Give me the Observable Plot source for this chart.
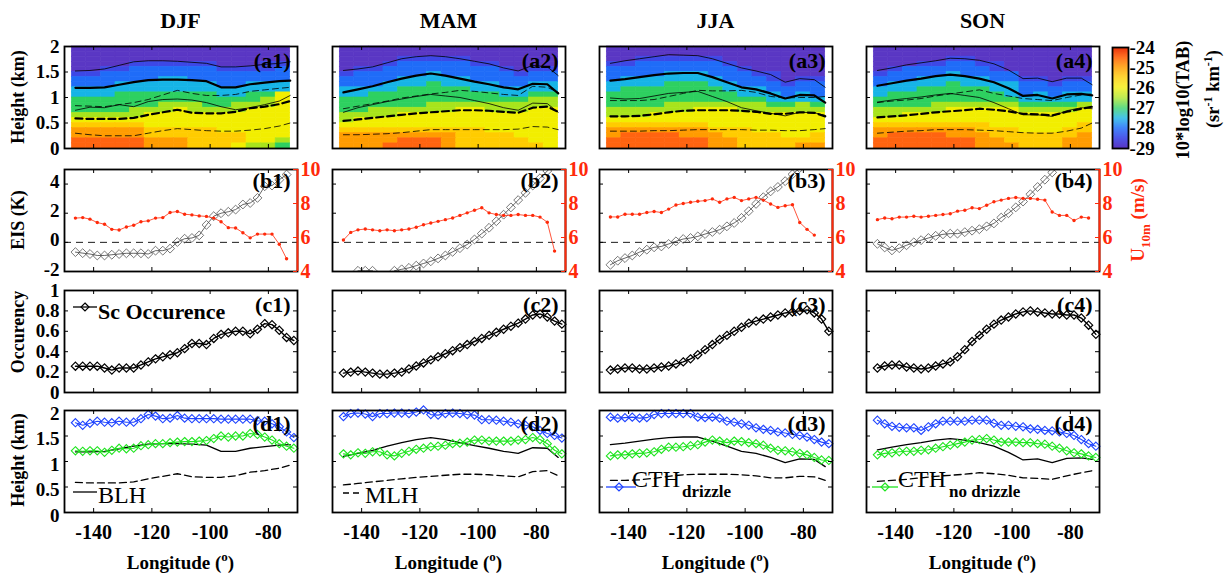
<!DOCTYPE html>
<html><head><meta charset="utf-8">
<script src="https://cdn.jsdelivr.net/npm/d3@7"></script>
<script src="https://cdn.jsdelivr.net/npm/@observablehq/plot@0.6"></script>
<style>
body{margin:0;background:#fff;}
#root{position:relative;width:1232px;height:577px;overflow:hidden;background:#fff;}
</style></head><body><div id="root"></div>
<script>
// ---------------- DATA ----------------
const seasons = ["DJF","MAM","JJA","SON"];
const xTicks = [-140,-120,-100,-80];
const hTicks = [0,0.5,1,1.5,2];
const eisTicks = [-2,0,2,4];
const eisRef = [0];
const uTicks = [4,6,8,10];
const occTicks = [0,0.2,0.4,0.6,0.8,1];
const tabTicks = [-29,-28,-27,-26,-25,-24];
const lonPts = [-146.25,-143.75,-141.25,-138.75,-136.25,-133.75,-131.25,-128.75,-126.25,-123.75,-121.25,-118.75,-116.25,-113.75,-111.25,-108.75,-106.25,-103.75,-101.25,-98.75,-96.25,-93.75,-91.25,-88.75,-86.25,-83.75,-81.25,-78.75,-76.25,-73.75,-71.25];
const lonLine = [-146.25,-141.25,-136.25,-131.25,-126.25,-121.25,-116.25,-111.25,-106.25,-101.25,-96.25,-91.25,-86.25,-81.25,-76.25,-72.5];
const heatLon = [-145,-140,-135,-130,-125,-120,-115,-110,-105,-100,-95,-90,-85,-80,-75];
const heatH = [1.95,1.85,1.75,1.65,1.55,1.45,1.35,1.25,1.15,1.05,0.95,0.85,0.75,0.65,0.55,0.45,0.35,0.25,0.15,0.05];

// TAB field, digit d -> 10*log10(TAB) = -29 + 0.5*d ; rows top (2 km) to bottom (0 km)
const tabDJF = ["000000000000000","000000000000000","000000000000000","000011111100011","001122222211112","112222222222222","222222332222222","222333333322333","333333333333333","333444444433446","444444444444456","444444555445556","444455565555666","555556666666666","666666666666666","777776666666666","888887777766666","888887777777666","999998887777665","999998887776554"];
const tabMAM = ["000000000000000","000000000000000","000011111000000","000122222110000","011222222221011","122222322222122","222233333222222","222333433332233","333344444333333","334444444443344","444444444444455","444444555555555","445555556655566","555566666666666","566666666666666","666666666666666","777777777766666","888888887777666","888899987777766","888999987777776"];
const tabJJA = ["000000000000000","000000000000000","001111110000000","112222221000000","222222222100000","222233322211000","233333332221011","333344433222122","344444443332222","444444444333232","444444444443333","444455555554454","555555666555555","555666666666666","666666666666666","777777766666666","888888877766666","899998887777667","999999988777777","999999988777788"];
const tabSON = ["000000000000000","000000000000000","000001100000000","000112211000000","012222221000000","122223222200000","222333332211011","233334333322122","333444443322222","344444444323233","444444444433333","444455555544445","555556666655556","556666666666666","666666666666666","777777776666667","888888877766677","899998887777778","999999988777788","999999988877788"];

// height lines (km) on lonLine
const blhDJF = [1.19,1.19,1.2,1.25,1.3,1.34,1.35,1.35,1.34,1.32,1.2,1.2,1.26,1.29,1.32,1.33];
const blhMAM = [1.1,1.16,1.22,1.3,1.37,1.43,1.47,1.43,1.37,1.31,1.26,1.2,1.16,1.27,1.26,1.08];
const blhJJA = [1.33,1.36,1.4,1.44,1.47,1.48,1.48,1.4,1.3,1.2,1.16,1.08,0.98,1.05,1.04,0.9];
const blhSON = [1.23,1.28,1.33,1.37,1.42,1.45,1.42,1.37,1.3,1.18,1.03,1.05,0.98,1.06,1.07,1.04];
const mlhDJF = [0.59,0.58,0.58,0.58,0.6,0.66,0.71,0.76,0.7,0.69,0.69,0.72,0.79,0.82,0.87,0.93];
const mlhMAM = [0.54,0.57,0.6,0.63,0.66,0.69,0.71,0.73,0.75,0.75,0.74,0.72,0.7,0.8,0.82,0.72];
const mlhJJA = [0.63,0.63,0.64,0.67,0.71,0.74,0.75,0.75,0.75,0.74,0.72,0.68,0.68,0.71,0.7,0.63];
const mlhSON = [0.61,0.63,0.65,0.68,0.71,0.73,0.75,0.78,0.76,0.73,0.68,0.67,0.65,0.72,0.78,0.82];
const blhHiDJF = [1.52,1.53,1.56,1.63,1.7,1.72,1.72,1.71,1.69,1.67,1.6,1.6,1.62,1.65,1.67,1.7];
const blhHiMAM = [1.53,1.56,1.6,1.68,1.76,1.8,1.82,1.8,1.76,1.71,1.66,1.58,1.52,1.63,1.6,1.43];
const blhHiJJA = [1.67,1.72,1.76,1.8,1.84,1.83,1.82,1.76,1.67,1.58,1.52,1.45,1.3,1.37,1.35,1.2];
const blhHiSON = [1.53,1.58,1.64,1.68,1.72,1.77,1.76,1.73,1.66,1.54,1.37,1.38,1.31,1.38,1.38,1.25];
const blhLoDJF = [0.75,0.81,0.8,0.86,0.82,0.92,0.96,0.97,0.95,0.9,0.82,0.76,0.8,0.86,0.93,1.04];
const blhLoMAM = [0.71,0.8,0.86,0.92,0.97,1.02,1.06,1.03,1.0,0.94,0.88,0.8,0.75,0.89,0.88,0.71];
const blhLoJJA = [0.99,0.97,0.98,1.03,1.08,1.1,1.12,1.02,0.92,0.8,0.74,0.69,0.64,0.71,0.7,0.65];
const blhLoSON = [0.91,0.95,0.98,1.01,1.05,1.08,1.04,1.0,0.9,0.78,0.66,0.66,0.63,0.74,0.8,0.78];
const mlhHiDJF = [0.84,0.83,0.82,0.86,0.9,0.96,1.05,1.14,1.08,1.04,1.04,1.06,1.12,1.15,1.18,1.2];
const mlhHiMAM = [0.78,0.83,0.88,0.93,0.99,1.03,1.07,1.1,1.14,1.12,1.09,1.06,1.04,1.22,1.2,1.1];
const mlhHiJJA = [0.94,0.94,0.94,0.96,1.02,1.08,1.14,1.13,1.13,1.14,1.1,1.02,0.99,1.0,1.0,1.02];
const mlhHiSON = [0.9,0.93,0.95,0.98,1.03,1.07,1.11,1.15,1.08,1.03,0.98,0.96,0.94,1.0,1.05,1.07];
const mlhLoDJF = [0.3,0.27,0.25,0.25,0.25,0.3,0.35,0.39,0.37,0.35,0.34,0.34,0.36,0.39,0.44,0.5];
const mlhLoMAM = [0.27,0.27,0.28,0.29,0.31,0.34,0.37,0.37,0.37,0.37,0.37,0.37,0.38,0.43,0.42,0.37];
const mlhLoJJA = [0.34,0.34,0.34,0.35,0.35,0.36,0.37,0.37,0.37,0.37,0.36,0.36,0.35,0.35,0.37,0.39];
const mlhLoSON = [0.3,0.32,0.34,0.35,0.37,0.37,0.37,0.36,0.35,0.33,0.31,0.3,0.3,0.34,0.4,0.5];

// EIS (K) and U10m (m/s) on lonPts
const eisDJF = [-0.67,-0.74,-0.8,-0.9,-0.9,-0.85,-0.8,-0.75,-0.75,-0.75,-0.8,-0.57,-0.57,-0.43,0.02,0.25,0.3,0.48,1.2,1.8,2.0,2.1,2.25,2.6,2.7,3.05,3.85,3.9,4.3,4.65];
const eisMAM = [null,null,-1.95,-1.95,-1.95,null,null,-1.95,-1.85,-1.75,-1.6,-1.45,-1.3,-1.1,-0.9,-0.65,-0.4,-0.15,0.2,0.6,1.0,1.45,1.9,2.4,2.9,3.4,3.9,4.4,4.9,5.4];
const eisJJA = [-1.54,-1.26,-1.08,-0.9,-0.67,-0.5,-0.34,-0.28,-0.11,0.07,0.23,0.3,0.41,0.57,0.71,0.87,1.1,1.33,1.68,2.14,2.64,3.1,3.5,3.8,4.2,4.67,5.1];
const eisSON = [-0.1,-0.35,-0.55,-0.4,-0.2,0.0,0.15,0.3,0.45,0.55,0.6,0.6,0.7,0.8,0.9,1.1,1.3,1.7,2.0,2.4,2.8,3.3,3.8,4.3,4.8,5.3];
const uDJF = [7.14,7.17,7.08,6.88,6.78,6.48,6.44,6.62,6.72,6.93,6.98,7.14,7.17,7.47,7.53,7.37,7.33,7.27,7.24,7.14,6.93,6.58,6.56,6.28,5.98,6.2,6.2,6.2,5.6,4.75];
const uMAM = [5.85,6.3,6.45,6.5,6.45,6.4,6.45,6.4,6.45,6.5,6.6,6.75,6.85,6.95,7.05,7.15,7.3,7.45,7.6,7.75,7.45,7.35,7.3,7.3,7.35,7.3,7.3,7.2,6.9,5.2];
const uJJA = [7.21,7.21,7.37,7.37,7.37,7.47,7.53,7.47,7.67,7.91,8.0,8.07,8.13,8.17,8.27,8.07,8.27,8.36,8.17,8.27,8.36,8.2,7.97,7.77,7.87,7.93,6.88,6.48,6.14];
const uSON = [7.05,7.15,7.1,7.2,7.2,7.25,7.2,7.25,7.3,7.35,7.4,7.55,7.6,7.75,7.7,7.9,8.1,8.2,8.3,8.35,8.3,8.3,8.25,8.2,7.5,7.3,7.3,7.0,7.2,7.15];

// Sc occurrence
const occDJF = [0.258,0.258,0.258,0.258,0.24,0.22,0.24,0.24,0.24,0.27,0.30,0.33,0.35,0.37,0.39,0.43,0.48,0.48,0.47,0.53,0.57,0.585,0.60,0.60,0.575,0.62,0.675,0.665,0.61,0.54,0.51];
const occMAM = [0.19,0.2,0.21,0.2,0.19,0.18,0.18,0.19,0.2,0.23,0.26,0.29,0.32,0.35,0.38,0.41,0.44,0.47,0.5,0.53,0.56,0.59,0.62,0.65,0.68,0.72,0.76,0.77,0.74,0.70,0.67];
const occJJA = [0.22,0.23,0.24,0.24,0.23,0.23,0.24,0.25,0.26,0.28,0.30,0.33,0.37,0.42,0.47,0.52,0.56,0.6,0.64,0.68,0.7,0.72,0.74,0.76,0.78,0.79,0.8,0.81,0.78,0.72,0.6];
const occSON = [0.24,0.26,0.27,0.27,0.25,0.24,0.23,0.24,0.26,0.28,0.3,0.35,0.42,0.5,0.56,0.62,0.67,0.71,0.74,0.77,0.79,0.8,0.79,0.78,0.77,0.77,0.76,0.76,0.73,0.66,0.57];

// CTH drizzle / no drizzle (km)
const drzDJF = [1.76,1.71,1.75,1.79,1.77,1.76,1.79,1.77,1.77,1.84,1.92,1.89,1.84,1.85,1.90,1.85,1.84,1.84,1.84,1.84,1.83,1.83,1.83,1.83,1.83,1.80,1.79,1.74,1.68,1.58,1.47];
const drzMAM = [1.88,1.94,1.95,1.93,1.88,1.94,1.94,1.95,1.95,1.94,1.97,2.01,1.92,1.91,1.94,1.95,1.94,1.92,1.91,1.82,1.82,1.81,1.79,1.77,1.74,1.71,1.68,1.61,1.55,1.51,1.46];
const drzJJA = [1.87,1.85,1.86,1.87,1.85,1.86,1.92,1.94,1.94,1.94,1.94,1.94,1.87,1.86,1.87,1.85,1.79,1.77,1.74,1.71,1.66,1.63,1.61,1.58,1.56,1.53,1.51,1.48,1.43,1.38,1.35];
const drzSON = [1.81,1.74,1.69,1.67,1.66,1.66,1.61,1.68,1.74,1.79,1.79,1.79,1.79,1.81,1.81,1.81,1.75,1.71,1.71,1.69,1.68,1.64,1.63,1.61,1.6,1.58,1.55,1.51,1.43,1.35,1.3];
const ndzDJF = [1.21,1.2,1.21,1.21,1.18,1.22,1.26,1.25,1.26,1.31,1.33,1.35,1.35,1.37,1.38,1.39,1.39,1.4,1.41,1.45,1.5,1.48,1.5,1.5,1.55,1.53,1.48,1.42,1.35,1.3,1.26];
const ndzMAM = [1.15,1.13,1.17,1.16,1.19,1.19,1.13,1.11,1.16,1.2,1.24,1.26,1.29,1.3,1.32,1.35,1.36,1.38,1.42,1.42,1.4,1.4,1.4,1.4,1.42,1.43,1.47,1.43,1.35,1.22,1.15];
const ndzJJA = [1.11,1.13,1.13,1.15,1.16,1.17,1.19,1.24,1.28,1.28,1.29,1.31,1.33,1.38,1.42,1.4,1.37,1.4,1.39,1.37,1.35,1.32,1.26,1.22,1.21,1.19,1.16,1.13,1.08,1.03,1.02];
const ndzSON = [1.13,1.16,1.17,1.19,1.2,1.2,1.22,1.23,1.26,1.29,1.32,1.35,1.38,1.42,1.43,1.45,1.42,1.38,1.38,1.38,1.37,1.37,1.35,1.34,1.3,1.26,1.21,1.17,1.15,1.11,1.08];

// ---------------- LAYOUT / STYLE ----------------
const FONT = '"Liberation Serif","Times New Roman",Times,serif';
const RED = "#ff2a0a", BLUE = "#1f44ff", GREEN = "#1fe41f";
const colLeft = [64, 332, 599, 866];
const rowTop = [46, 169, 290, 410];
const PW = 233, PH = 102, TL = 4;
const ML = 70, MR = 50, MT = 14, MB = 50;
const xDomain = [-150, -70];
const colorOpts = {type: "linear", interpolate: "rgb",
  domain: [-29,-28.5,-28,-27.5,-27,-26.5,-26,-25.5,-25,-24.5,-24],
  range: ["#5a37c4","#3d48e6","#1f6cf8","#16b4e6","#2ed060","#a8e41c","#f2ee00","#ffcc00","#ff9c00","#ff6410","#e8300c"]};

const D = {
  DJF:{tab:tabDJF,blh:blhDJF,mlh:mlhDJF,bHi:blhHiDJF,bLo:blhLoDJF,mHi:mlhHiDJF,mLo:mlhLoDJF,eis:eisDJF,u:uDJF,occ:occDJF,drz:drzDJF,ndz:ndzDJF},
  MAM:{tab:tabMAM,blh:blhMAM,mlh:mlhMAM,bHi:blhHiMAM,bLo:blhLoMAM,mHi:mlhHiMAM,mLo:mlhLoMAM,eis:eisMAM,u:uMAM,occ:occMAM,drz:drzMAM,ndz:ndzMAM},
  JJA:{tab:tabJJA,blh:blhJJA,mlh:mlhJJA,bHi:blhHiJJA,bLo:blhLoJJA,mHi:mlhHiJJA,mLo:mlhLoJJA,eis:eisJJA,u:uJJA,occ:occJJA,drz:drzJJA,ndz:ndzJJA},
  SON:{tab:tabSON,blh:blhSON,mlh:mlhSON,bHi:blhHiSON,bLo:blhLoSON,mHi:mlhHiSON,mLo:mlhLoSON,eis:eisSON,u:uSON,occ:occSON,drz:drzSON,ndz:ndzSON}
};

const root = document.getElementById("root");
function mount(node, left, top) {
  node.style.position = "absolute";
  node.style.left = left + "px";
  node.style.top = top + "px";
  node.style.overflow = "visible";
  root.appendChild(node);
}
function panelPlot(yDomain, marks) {
  return Plot.plot({
    width: PW + ML + MR, height: PH + MT + MB,
    marginLeft: ML, marginRight: MR, marginTop: MT, marginBottom: MB,
    x: {domain: xDomain, axis: null},
    y: {domain: yDomain, axis: null},
    color: colorOpts,
    style: {background: "transparent", fontFamily: FONT, fontSize: "19px", fontWeight: "bold", overflow: "visible", color: "black"},
    marks: marks.flat().filter(Boolean)
  });
}
const fmt = d => String(d);
const pts = (arr, lons) => arr.map((v, i) => ({lon: lons[i], v}));
function cells(rows) {
  const out = [];
  rows.forEach((s, r) => [...s].forEach((ch, c) => out.push({
    x1: heatLon[c] - 2.5, x2: heatLon[c] + 2.5, y1: heatH[r] - 0.05, y2: heatH[r] + 0.05, v: -29 + 0.5 * (+ch)})));
  return out;
}
function xTickMarks() {
  return [Plot.tickX(xTicks, {x: d => d, insetTop: PH - TL, stroke: "black"}),
          Plot.tickX(xTicks, {x: d => d, insetBottom: PH - TL, stroke: "black"})];
}
function yTickMarks(t, left = true, right = true, color = "black") {
  const m = [];
  if (left) m.push(Plot.tickY(t, {y: d => d, insetRight: PW - TL, stroke: color}));
  if (right) m.push(Plot.tickY(t, {y: d => d, insetLeft: PW - TL, stroke: color}));
  return m;
}
function panelLabel(s, dy) {
  return Plot.text([s], {text: d => d, frameAnchor: "top-right", textAnchor: "end", lineAnchor: "top", dx: -7, dy, fontSize: 22, fontWeight: "bold"});
}
function leftAxis(c, t, dy = 0) {
  return c === 0 ? Plot.axisY({ticks: t, tickSize: 0, tickPadding: 5, tickFormat: fmt, label: null, dy}) : null;
}
const frame = () => Plot.frame({stroke: "black", strokeWidth: 1.8});

seasons.forEach((s, c) => {
  const d = D[s];
  // Row a : TAB field with BLH / MLH lines
  const a = panelPlot([0, 2], [
    Plot.rect(cells(d.tab), {x1: "x1", x2: "x2", y1: "y1", y2: "y2", fill: "v", stroke: "v", strokeWidth: 0.6}),
    Plot.line(pts(d.bHi, lonLine), {x: "lon", y: "v", stroke: "black", strokeWidth: 0.8}),
    Plot.line(pts(d.bLo, lonLine), {x: "lon", y: "v", stroke: "black", strokeWidth: 0.8}),
    Plot.line(pts(d.mHi, lonLine), {x: "lon", y: "v", stroke: "black", strokeWidth: 0.8, strokeDasharray: "6,4"}),
    Plot.line(pts(d.mLo, lonLine), {x: "lon", y: "v", stroke: "black", strokeWidth: 0.8, strokeDasharray: "6,4"}),
    Plot.line(pts(d.blh, lonLine), {x: "lon", y: "v", stroke: "black", strokeWidth: 2.2}),
    Plot.line(pts(d.mlh, lonLine), {x: "lon", y: "v", stroke: "black", strokeWidth: 2.2, strokeDasharray: "7,4"}),
    xTickMarks(), yTickMarks(hTicks), frame(),
    panelLabel(`(a${c+1})`, 6), leftAxis(c, hTicks)
  ]);
  mount(a, colLeft[c] - ML, rowTop[0] - MT);

  // Row b : EIS (left) + U10m (right)
  const b = panelPlot([-2, 5], [
    Plot.ruleY(eisRef, {stroke: "black", strokeWidth: 0.9, strokeDasharray: "7,5"}),
    Plot.line(pts(d.eis, lonPts), {x: "lon", y: "v", stroke: "#222", strokeWidth: 0.7, clip: true}),
    Plot.dot(pts(d.eis, lonPts), {x: "lon", y: "v", symbol: "diamond2", r: 4, stroke: "#555", strokeWidth: 0.8, fill: "none", clip: true}),
    xTickMarks(), yTickMarks(eisTicks, true, false), frame(),
    leftAxis(c, eisTicks, -2)
  ]);
  mount(b, colLeft[c] - ML, rowTop[1] - MT);
  const b2 = panelPlot([4, 10], [
    Plot.line(pts(d.u, lonPts), {x: "lon", y: "v", stroke: RED, strokeWidth: 0.8}),
    Plot.dot(pts(d.u, lonPts), {x: "lon", y: "v", r: 1.7, fill: RED}),
    yTickMarks(uTicks, false, true, RED),
    Plot.ruleX([xDomain[1]], {stroke: RED, strokeWidth: 2}),
    Plot.axisY({anchor: "right", ticks: uTicks, tickSize: 0, tickPadding: 3, tickFormat: fmt, label: null, fill: RED, color: RED, fontSize: 20}),
    panelLabel(`(b${c+1})`, 3)
  ]);
  mount(b2, colLeft[c] - ML, rowTop[1] - MT);

  // Row c : Sc occurrence
  const cc = panelPlot([0, 1], [
    Plot.line(pts(d.occ, lonPts), {x: "lon", y: "v", stroke: "black", strokeWidth: 1.4}),
    Plot.dot(pts(d.occ, lonPts), {x: "lon", y: "v", symbol: "diamond2", r: 3.7, stroke: "black", strokeWidth: 1.2, fill: "none"}),
    xTickMarks(), yTickMarks(occTicks), frame(),
    panelLabel(`(c${c+1})`, 6), leftAxis(c, occTicks)
  ]);
  mount(cc, colLeft[c] - ML, rowTop[2] - MT);

  // Row d : heights
  const dd = panelPlot([0, 2], [
    Plot.line(pts(d.blh, lonLine), {x: "lon", y: "v", stroke: "black", strokeWidth: 1.3}),
    Plot.line(pts(d.mlh, lonLine), {x: "lon", y: "v", stroke: "black", strokeWidth: 1.3, strokeDasharray: "7,4"}),
    Plot.line(pts(d.drz, lonPts), {x: "lon", y: "v", stroke: BLUE, strokeWidth: 1.1}),
    Plot.dot(pts(d.drz, lonPts), {x: "lon", y: "v", symbol: "diamond2", r: 3.7, stroke: BLUE, strokeWidth: 1.1, fill: "none"}),
    Plot.line(pts(d.ndz, lonPts), {x: "lon", y: "v", stroke: GREEN, strokeWidth: 1.1}),
    Plot.dot(pts(d.ndz, lonPts), {x: "lon", y: "v", symbol: "diamond2", r: 3.7, stroke: GREEN, strokeWidth: 1.1, fill: "none"}),
    xTickMarks(), yTickMarks(hTicks), frame(),
    Plot.axisX({ticks: xTicks, tickSize: 0, tickPadding: 12, tickFormat: fmt, label: null, fontSize: 20}),
    panelLabel(`(d${c+1})`, 5), leftAxis(c, hTicks, 3)
  ]);
  mount(dd, colLeft[c] - ML, rowTop[3] - MT);
});

// colorbar
const cbStep = 0.05;
const cbVals = d3.range(-29, -24, cbStep);
const cb = Plot.plot({
  width: 16 + 4 + 60, height: 101 + 20, marginLeft: 4, marginRight: 60, marginTop: 10, marginBottom: 10,
  y: {domain: [-29, -24], axis: null},
  color: colorOpts,
  style: {background: "transparent", fontFamily: FONT, fontSize: "19px", fontWeight: "bold", overflow: "visible"},
  marks: [
    Plot.rect(cbVals, {y1: d => d, y2: d => d + cbStep, fill: d => d + cbStep / 2}),
    Plot.frame({stroke: "black", strokeWidth: 1.8}),
    Plot.axisY({anchor: "right", ticks: tabTicks, tickSize: 0, tickPadding: 1, tickFormat: fmt, label: null})
  ]
});
mount(cb, 1112 - 4, 47 - 10);

// ---------------- TEXT & LEGENDS (overlay) ----------------
const ov = d3.create("svg").attr("width", 1232).attr("height", 577)
  .attr("style", `position:absolute;left:0;top:0;overflow:visible;pointer-events:none;font-family:${FONT}`);
function T(x, y, parts, o = {}) {
  const size = o.size || 22;
  const t = ov.append("text").attr("font-size", size).attr("font-weight", o.weight || "bold")
    .attr("fill", o.fill || "black").attr("text-anchor", o.anchor || "start");
  if (o.rotate) {
    const bx = x + 0.33 * size;
    t.attr("x", bx).attr("y", y).attr("transform", `rotate(-90,${bx},${y})`);
  } else t.attr("x", x).attr("y", y);
  for (const [s, dy, fs] of parts) {
    const ts = t.append("tspan").text(s);
    if (dy) ts.attr("dy", dy);
    if (fs) ts.attr("font-size", fs);
  }
}
seasons.forEach((s, c) => {
  const cx = colLeft[c] + PW / 2;
  T(cx, 28, [[s]], {size: 22, anchor: "middle"});
  T(cx, 569, [["Longitude ("], ["o", -8, 13], [")", 8]], {size: 19, anchor: "middle"});
});
T(18, 97, [["Height (km)"]], {size: 18, anchor: "middle", rotate: true});
T(18, 220, [["EIS (K)"]], {size: 18, anchor: "middle", rotate: true});
T(18, 332, [["Occurency"]], {size: 18, anchor: "middle", rotate: true});
T(18, 460, [["Height (km)"]], {size: 18, anchor: "middle", rotate: true});
T(1183, 100, [["10*log10(TAB)"]], {size: 18.5, anchor: "middle", rotate: true});
T(1213, 89, [["(sr"], ["-1", -7, 12], [" km", 7], ["-1", -7, 12], [")", 7]], {size: 18.5, anchor: "middle", rotate: true});
T(1138, 220, [["U"], ["10m", 6, 13], [" (m/s)", -6]], {size: 19, anchor: "middle", rotate: true, fill: RED});

function sample(x1, x2, y, stroke, dash, diamondX) {
  ov.append("line").attr("x1", x1).attr("x2", x2).attr("y1", y).attr("y2", y)
    .attr("stroke", stroke).attr("stroke-width", 1.3).attr("stroke-dasharray", dash || null);
  if (diamondX != null) ov.append("path")
    .attr("d", `M${diamondX},${y-4}L${diamondX+4},${y}L${diamondX},${y+4}L${diamondX-4},${y}Z`)
    .attr("fill", "none").attr("stroke", stroke).attr("stroke-width", 1.2);
}
sample(73, 97, 307, "black", null, 85);
T(98, 319, [["Sc Occurence"]], {size: 22});
sample(73, 97, 492, "black");
T(98, 503, [["BLH"]], {size: 24, weight: "normal"});
sample(343, 362, 493, "black", "6,4");
T(365, 503, [["MLH"]], {size: 24, weight: "normal"});
sample(606, 636, 487, BLUE, null, 619);
T(632, 487, [["CTH"]], {size: 24, weight: "normal"});
T(682, 497, [["drizzle"]], {size: 17});
sample(872, 898, 487, GREEN, null, 885);
T(898, 487, [["CTH"]], {size: 24, weight: "normal"});
T(949, 497, [["no drizzle"]], {size: 17});
root.appendChild(ov.node());
</script></body></html>
